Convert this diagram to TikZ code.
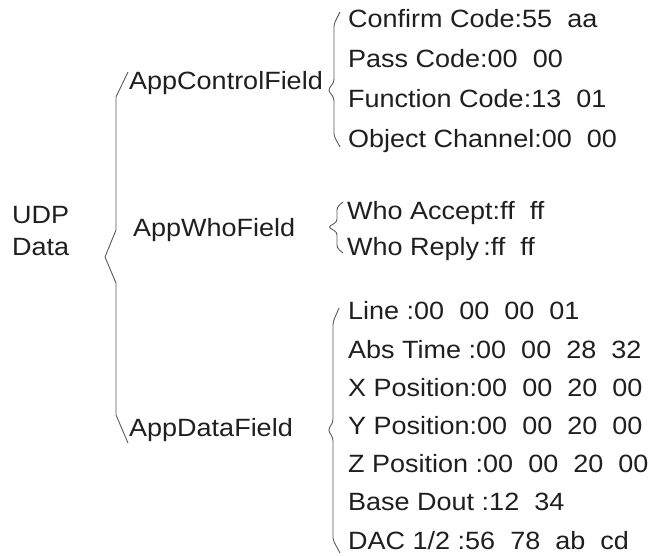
\documentclass[tikz,border=0pt]{standalone}
\usepackage{fontspec}
\setmainfont[FakeStretch=1.08]{Liberation Sans}
\begin{document}
\begin{tikzpicture}[x=1pt, y=-1pt,
  lbl/.style={anchor=base west, inner sep=0pt, text=black!88,
    font=\fontsize{25}{32}\selectfont},
  brace/.style={draw=black!65, line width=0.9pt, line join=round},
  softbrace/.style={brace, rounded corners=3pt}]
\useasboundingbox (0,0) rectangle (649,556);

% ---------- корень и три поля
\node[lbl, align=left] (udp) at (12,256) {UDP\\Data};
\node[lbl] (ctrl) at (129,90)  {AppControlField};
\node[lbl] (who)  at (133,237) {AppWhoField};
\node[lbl] (data) at (129,437) {AppDataField};

\draw[brace] (128,72) -- (116,97) -- (116,230) -- (105,257)
  -- (116,283) -- (116,415) -- (128,443);

% ---------- AppControlField
\foreach \txt [count=\i] in {Confirm Code:55~~aa, Pass Code:00~~00,
    Function Code:13~~01, Object Channel:00~~00}
  \node[lbl] (c\i) at (348,{28+39.7*(\i-1)}) {\txt};
\draw[softbrace] (340,12) -- (334,24) -- (334,82) -- (328,90)
  -- (334,98) -- (334,136) -- (340,147);

% ---------- AppWhoField
\node[lbl] (w1) at (347,220) {Who Accept:ff~~ff};
\node[lbl] (w2) at (347,256) {Who Reply\,:ff~~ff};
\draw[softbrace] (343,202) -- (337,207) -- (337,222) -- (328,227)
  -- (337,232) -- (337,248) -- (343,253);

% ---------- AppDataField
\foreach \txt [count=\i] in {Line :00~~00~~00~~01, Abs Time :00~~00~~28~~32,
    X Position:00~~00~~20~~00, Y Position:00~~00~~20~~00,
    Z Position :00~~00~~20~~00, Base Dout :12~~34, DAC 1/2 :56~~78~~ab~~cd}
  \node[lbl] (d\i) at (348,{320+38.2*(\i-1)}) {\txt};
\draw[softbrace] (339,308) -- (333,322) -- (333,422) -- (328,430)
  -- (333,438) -- (333,540) -- (340,553);
\end{tikzpicture}
\end{document}
